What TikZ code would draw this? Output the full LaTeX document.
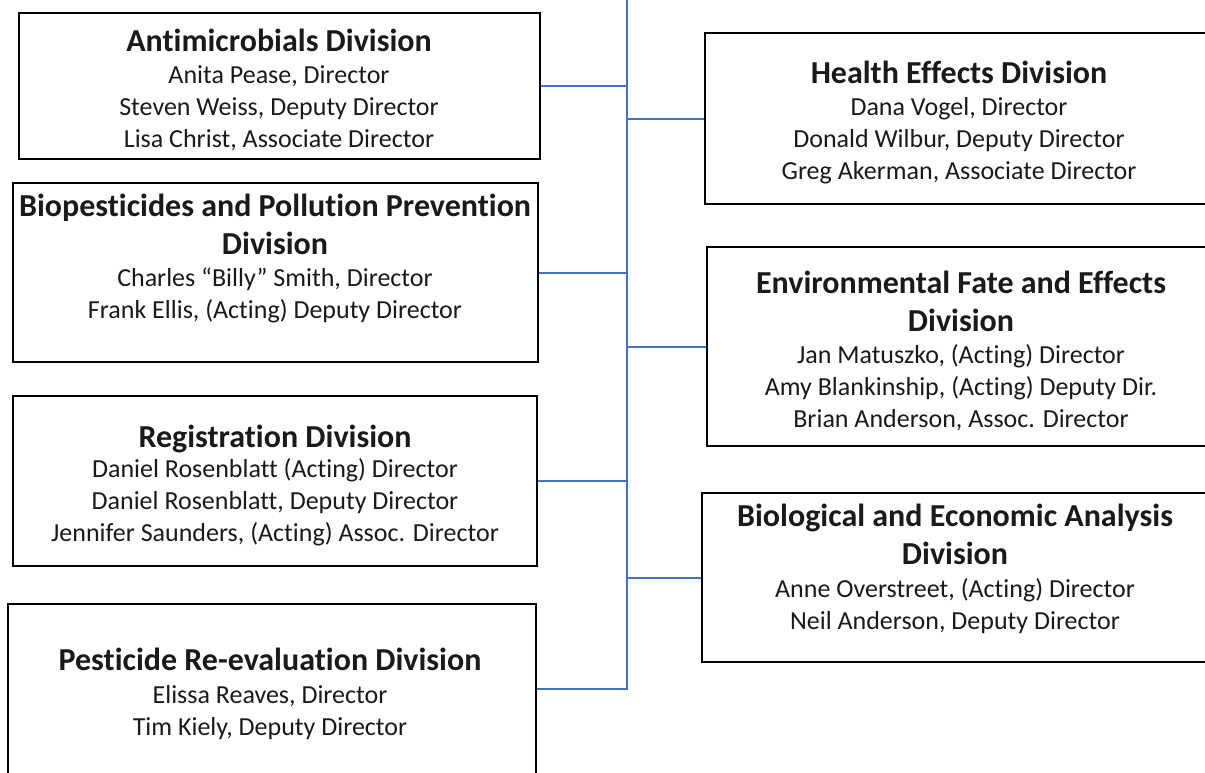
\documentclass[tikz,border=0pt]{standalone}
\usepackage{fontspec}
\setmainfont{Carlito}[Ligatures=NoCommon]
\definecolor{connblue}{HTML}{4472C4}
\definecolor{txt}{HTML}{1A1A1A}
\begin{document}
\begin{tikzpicture}[x=1pt,y=-1pt,
  box/.style={draw=black, line width=1.8pt, fill=white, inner sep=0pt},
  ttl/.style={anchor=base, align=center, inner sep=0pt, text=txt,
    font=\fontsize{32}{38}\selectfont\bfseries},
  body/.style={anchor=base, align=center, inner sep=0pt, text=txt,
    font=\fontsize{26}{32}\selectfont},
  conn/.style={draw=connblue, line width=2pt}]
\useasboundingbox (0,0) rectangle (1205,772);
\clip (0,0) rectangle (1205,772);
\fill[white] (0,0) rectangle (1205,772);
% boxes
\node[box, minimum width=521, minimum height=146] (A) at (279.5,86) {};
\node[box, minimum width=525, minimum height=179] (B) at (275.5,272.5) {};
\node[box, minimum width=524, minimum height=170] (C) at (275,481) {};
\node[box, minimum width=528, minimum height=170] (D) at (272,689) {};
\node[box, minimum width=508, minimum height=171] (H) at (959,118.5) {};
\node[box, minimum width=508, minimum height=199] (E) at (961,346.5) {};
\node[box, minimum width=506, minimum height=169] (G) at (955,577.5) {};
% connectors
\coordinate (top) at (627,-5);
\draw[conn] (top) |- (D.east);
\draw[conn] (A.east) -- (A.east -| top);
\draw[conn] (B.east) -- (B.east -| top);
\draw[conn] (C.east) -- (C.east -| top);
\draw[conn] (H.west) -- (H.west -| top);
\draw[conn] (E.west) -- (E.west -| top);
\draw[conn] (G.west) -- (G.west -| top);
% texts (anchor = baseline of last line)
\node[ttl] (At) at (279,51) {Antimicrobials Division};
\node[body] (Ab) at (279,147) {Anita Pease, Director\\Steven Weiss, Deputy Director\\Lisa Christ, Associate Director};
\node[ttl] (Bt) at (275,254) {Biopesticides and Pollution Prevention\\Division};
\node[body] (Bb) at (275,318) {Charles “Billy” Smith, Director\\Frank Ellis, (Acting) Deputy Director};
\node[ttl] (Ct) at (275,447) {Registration Division};
\node[body] (Cb) at (275,541) {Daniel Rosenblatt (Acting) Director\\Daniel Rosenblatt, Deputy Director\\Jennifer Saunders, (Acting) Assoc. Director};
\node[ttl] (Dt) at (270,670) {Pesticide Re-evaluation Division};
\node[body] (Db) at (270,735) {Elissa Reaves, Director\\Tim Kiely, Deputy Director};
\node[ttl] (Ht) at (959,83) {Health Effects Division};
\node[body] (Hb) at (959,179) {Dana Vogel, Director\\Donald Wilbur, Deputy Director\\Greg Akerman, Associate Director};
\node[ttl] (Et) at (961,331) {Environmental Fate and Effects\\Division};
\node[body] (Eb) at (961,427) {Jan Matuszko, (Acting) Director\\Amy Blankinship, (Acting) Deputy Dir.\\Brian Anderson, Assoc. Director};
\node[ttl] (Gt) at (955,564) {Biological and Economic Analysis\\Division};
\node[body] (Gb) at (955,629) {Anne Overstreet, (Acting) Director\\Neil Anderson, Deputy Director};
\end{tikzpicture}
\end{document}
